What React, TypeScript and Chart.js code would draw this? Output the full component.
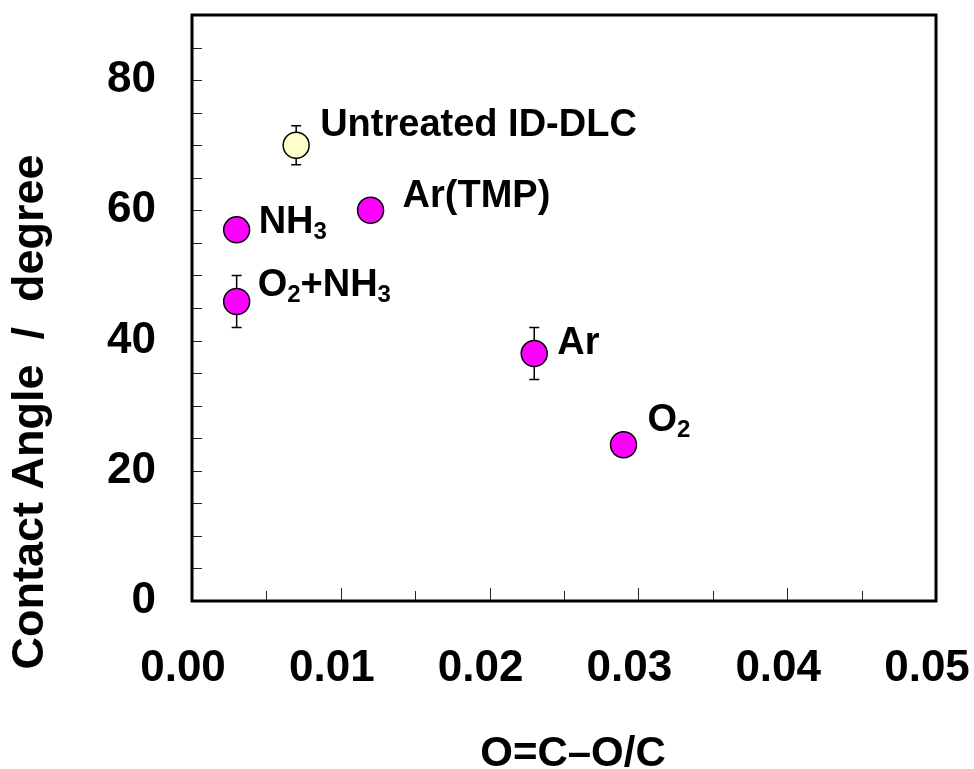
import { useEffect, useRef } from 'react';
import { Chart, registerables } from 'chart.js';
Chart.register(...registerables);

// ---- data ----
const sampleNames = ['Untreated ID-DLC', 'NH3', 'O2+NH3', 'Ar(TMP)', 'Ar', 'O2'];
const labelParts: [string, boolean][][] = [
  [['Untreated ID-DLC', false]],
  [['NH', false], ['3', true]],
  [['O', false], ['2', true], ['+NH', false], ['3', true]],
  [['Ar(TMP)', false]],
  [['Ar', false]],
  [['O', false], ['2', true]],
];
const occRatio = [0.007, 0.003, 0.003, 0.012, 0.023, 0.029];
const contactAngle = [70, 57, 46, 60, 38, 24];
const angleError = [3, 0, 4, 0, 4, 0];
const xTickValues = [0, 0.01, 0.02, 0.03, 0.04, 0.05];
const yTickValues = [0, 20, 40, 60, 80];
const xMinorTicks = [0.005, 0.01, 0.015, 0.02, 0.025, 0.03, 0.035, 0.04, 0.045];
const yMinorTicks = [5, 10, 15, 20, 25, 30, 35, 40, 45, 50, 55, 60, 65, 70, 75, 80, 85];
const xTitle = 'O=C\u2013O/C';
const yTitle = 'Contact Angle  /  degree';

// ---- styles ----
const FONT = '"Liberation Sans", Arial, Helvetica, sans-serif';
const pointColors = ['#FFFFCC', '#FF00FF', '#FF00FF', '#FF00FF', '#FF00FF', '#FF00FF'];
const labelOffsets = [
  [24, -9],
  [22, 3],
  [21, -5],
  [32, -3],
  [23, 0],
  [24, -14],
];

const decorPlugin = {
  id: 'decor',
  beforeDatasetsDraw(chart: any) {
    const ctx = chart.ctx;
    const { left, right, top, bottom } = chart.chartArea;
    const xs = chart.scales.x;
    const ys = chart.scales.y;
    ctx.save();
    ctx.strokeStyle = '#222';
    ctx.lineWidth = 1;
    yMinorTicks.forEach((v) => {
      const y = Math.round(ys.getPixelForValue(v)) + 0.5;
      ctx.beginPath();
      ctx.moveTo(left, y);
      ctx.lineTo(left + 10, y);
      ctx.stroke();
    });
    xMinorTicks.forEach((v) => {
      const x = Math.round(xs.getPixelForValue(v)) + 0.5;
      const major = Math.abs(v * 100 - Math.round(v * 100)) < 1e-6;
      ctx.beginPath();
      ctx.moveTo(x, bottom);
      ctx.lineTo(x, bottom - (major ? 13 : 10));
      ctx.stroke();
    });
    ctx.strokeStyle = '#000';
    ctx.lineWidth = 3;
    ctx.strokeRect(left, top, right - left, bottom - top);
    ctx.lineWidth = 1.5;
    occRatio.forEach((xv, i) => {
      const e = angleError[i];
      if (!e) return;
      const x = xs.getPixelForValue(xv);
      const y1 = ys.getPixelForValue(contactAngle[i] + e);
      const y2 = ys.getPixelForValue(contactAngle[i] - e);
      ctx.beginPath();
      ctx.moveTo(x, y1);
      ctx.lineTo(x, y2);
      ctx.moveTo(x - 5, y1);
      ctx.lineTo(x + 5, y1);
      ctx.moveTo(x - 5, y2);
      ctx.lineTo(x + 5, y2);
      ctx.stroke();
    });
    ctx.restore();
  },
  afterDatasetsDraw(chart: any) {
    const ctx = chart.ctx;
    const xs = chart.scales.x;
    const ys = chart.scales.y;
    ctx.save();
    ctx.fillStyle = '#000';
    ctx.textBaseline = 'alphabetic';
    ctx.textAlign = 'left';
    occRatio.forEach((xv, i) => {
      let x = xs.getPixelForValue(xv) + labelOffsets[i][0];
      const y = ys.getPixelForValue(contactAngle[i]) + labelOffsets[i][1];
      labelParts[i].forEach(([t, sub]) => {
        ctx.font = sub ? `bold 24px ${FONT}` : `bold 38px ${FONT}`;
        ctx.fillText(t, x, y + (sub ? 6 : 0));
        x += ctx.measureText(t).width;
      });
    });
    ctx.font = `bold 42px ${FONT}`;
    ctx.textAlign = 'center';
    ctx.fillText(xTitle, 573, 766);
    ctx.save();
    ctx.translate(31, 412);
    ctx.rotate(-Math.PI / 2);
    ctx.font = `bold 45px ${FONT}`;
    ctx.textBaseline = 'middle';
    ctx.fillText(yTitle, 0, 0);
    ctx.restore();
    ctx.restore();
  },
};

export default function App() {
  const ref = useRef<HTMLCanvasElement>(null);
  useEffect(() => {
    if (!ref.current) return;
    const chart = new Chart(ref.current, {
      type: 'scatter',
      data: {
        datasets: [
          {
            label: 'Contact angle',
            data: occRatio.map((x, i) => ({ x, y: contactAngle[i] })),
            pointBackgroundColor: pointColors,
            pointBorderColor: '#000',
            pointBorderWidth: 1.5,
            pointRadius: 13,
            pointHoverRadius: 13,
          },
        ],
      },
      options: {
        animation: false,
        responsive: false,
        layout: { padding: { top: 15, right: 38, left: 0, bottom: 0 } },
        plugins: { legend: { display: false }, tooltip: { enabled: false } },
        scales: {
          x: {
            type: 'linear',
            min: 0,
            max: 0.05,
            grid: { display: false, drawTicks: false },
            border: { display: false },
            afterBuildTicks: (s: any) => {
              s.ticks = xTickValues.map((v) => ({ value: v }));
            },
            afterFit: (s: any) => {
              s.height = 168;
              s.paddingLeft = 0;
              s.paddingRight = 0;
            },
            ticks: {
              padding: 41,
              labelOffset: -9,
              maxRotation: 0,
              autoSkip: false,
              color: '#000',
              font: { family: FONT, size: 44, weight: 'bold' },
              callback: (v: any) => Number(v).toFixed(2),
            },
          },
          y: {
            type: 'linear',
            min: 0,
            max: 90,
            grid: { display: false, drawTicks: false },
            border: { display: false },
            afterBuildTicks: (s: any) => {
              s.ticks = yTickValues.map((v) => ({ value: v }));
            },
            afterFit: (s: any) => {
              s.width = 192;
              s.paddingTop = 0;
              s.paddingBottom = 0;
            },
            ticks: {
              padding: 36,
              autoSkip: false,
              color: '#000',
              font: { family: FONT, size: 44, weight: 'bold' },
              callback: (v: any) => String(v),
            },
          },
        },
      },
      plugins: [decorPlugin],
    });
    return () => chart.destroy();
  }, []);
  return (
    <div style={{ position: 'fixed', left: 0, top: 0, width: 974, height: 769, background: '#fff' }}>
      <canvas ref={ref} width={974} height={769} style={{ display: 'block' }} />
    </div>
  );
}
